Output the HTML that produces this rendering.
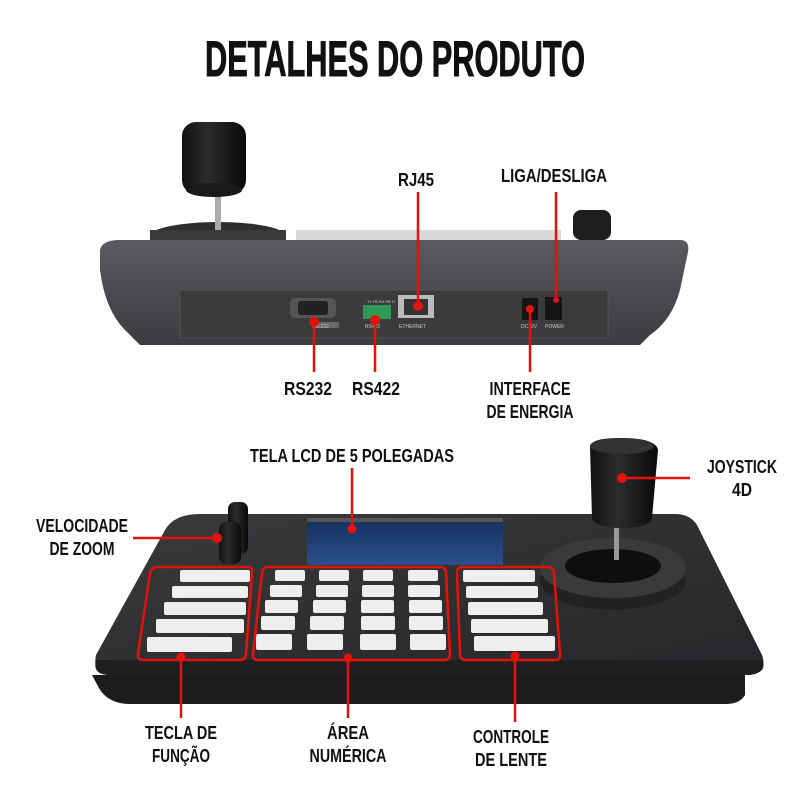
<!DOCTYPE html>
<html><head><meta charset="utf-8"><style>
html,body{margin:0;padding:0;background:#fff;}
svg{display:block;}
.t{font-family:"Liberation Sans Narrow","Liberation Sans",sans-serif;font-weight:bold;fill:#111;}
</style></head><body>
<svg width="800" height="801" viewBox="0 0 800 801" xmlns="http://www.w3.org/2000/svg">
<defs>
<linearGradient id="bodyT" x1="0" y1="0" x2="0" y2="1">
<stop offset="0" stop-color="#5a5b5e"/><stop offset="0.5" stop-color="#4a4b4e"/><stop offset="1" stop-color="#3c3d40"/>
</linearGradient>
<linearGradient id="board" x1="0" y1="0" x2="1" y2="1">
<stop offset="0" stop-color="#3a3a3c"/><stop offset="0.6" stop-color="#2e2e30"/><stop offset="1" stop-color="#26262a"/>
</linearGradient>
<linearGradient id="knob" x1="0" y1="0" x2="1" y2="0">
<stop offset="0" stop-color="#111"/><stop offset="0.4" stop-color="#2c2c2c"/><stop offset="1" stop-color="#0a0a0a"/>
</linearGradient>
<linearGradient id="lcd" x1="0" y1="0" x2="0" y2="1">
<stop offset="0" stop-color="#14305e"/><stop offset="1" stop-color="#2a4f8c"/>
</linearGradient>
</defs>

<text class="t" x="395" y="76" font-size="50" text-anchor="middle" textLength="380" lengthAdjust="spacingAndGlyphs" stroke="#111" stroke-width="1">DETALHES DO PRODUTO</text>

<!-- TOP DEVICE -->
<ellipse cx="218" cy="236" rx="68" ry="14" fill="#2e2e30"/>
<rect x="150" y="230" width="136" height="15" fill="#3a3a3c"/>
<rect x="215" y="190" width="6" height="40" fill="#aaa"/>
<rect x="182" y="122" width="64" height="72" rx="14" fill="url(#knob)"/>
<ellipse cx="214" cy="190" rx="28" ry="7" fill="#1a1a1a"/>
<rect x="296" y="230" width="265" height="12" fill="#d8d8d8"/>
<rect x="573" y="210" width="38" height="30" rx="8" fill="#1e1e1e"/>
<path d="M100,250 Q102,240 120,240 L680,240 Q690,240 688,252 L680,290 Q672,320 650,335 L640,345 L140,345 L125,330 Q105,310 100,270 Z" fill="url(#bodyT)"/>
<rect x="180" y="290" width="428" height="48" fill="#3b3b3d"/>
<rect x="180" y="290" width="428" height="48" fill="none" stroke="#555" stroke-width="1"/>
<rect x="290" y="298" width="46" height="20" rx="5" fill="#555"/>
<rect x="298" y="301" width="30" height="14" rx="3" fill="#222"/>
<rect x="313" y="322" width="26" height="6" fill="#888" opacity="0.6"/>
<rect x="363" y="305" width="28" height="14" fill="#2f9a55"/>
<text x="367" y="303" font-size="4" fill="#ccc" font-family="Liberation Sans">Tx TB RA RB G</text>
<text x="365" y="328" font-size="5" fill="#ccc" font-family="Liberation Sans">RS422</text>
<rect x="398" y="295" width="36" height="23" fill="#bbb"/>
<rect x="404" y="299" width="24" height="16" fill="#333"/>
<text x="399" y="328" font-size="5" fill="#ccc" font-family="Liberation Sans">ETHERNET</text>
<text x="312" y="328" font-size="5" fill="#ccc" font-family="Liberation Sans">RS-232</text>
<rect x="522" y="298" width="16" height="22" fill="#151515"/>
<rect x="545" y="297" width="17" height="23" fill="#151515"/>
<text x="521" y="328" font-size="5" fill="#ccc" font-family="Liberation Sans">DC12V</text>
<text x="545" y="328" font-size="5" fill="#ccc" font-family="Liberation Sans">POWER</text>

<!-- top connectors -->
<g stroke="#e3120b" stroke-width="2.5" fill="none">
<line x1="314" y1="322" x2="314" y2="372"/>
<line x1="375" y1="320" x2="375" y2="372"/>
<line x1="418" y1="192" x2="418" y2="306"/>
<line x1="556" y1="192" x2="556" y2="300"/>
<line x1="530" y1="309" x2="530" y2="372"/>
</g>
<g fill="#e3120b">
<circle cx="314" cy="322" r="5"/><circle cx="375" cy="320" r="5"/>
<circle cx="418" cy="306" r="5"/><circle cx="556" cy="300" r="3"/><circle cx="530" cy="309" r="4"/>
</g>
<text class="t" x="416" y="186" font-size="18" text-anchor="middle" textLength="36" lengthAdjust="spacingAndGlyphs">RJ45</text>
<text class="t" x="554" y="182" font-size="18" text-anchor="middle" textLength="106" lengthAdjust="spacingAndGlyphs">LIGA/DESLIGA</text>
<text class="t" x="308" y="395" font-size="18" text-anchor="middle" textLength="48" lengthAdjust="spacingAndGlyphs">RS232</text>
<text class="t" x="376" y="395" font-size="18" text-anchor="middle" textLength="48" lengthAdjust="spacingAndGlyphs">RS422</text>
<text class="t" x="530" y="395" font-size="18" text-anchor="middle" textLength="81" lengthAdjust="spacingAndGlyphs">INTERFACE</text>
<text class="t" x="530" y="418" font-size="18" text-anchor="middle" textLength="87" lengthAdjust="spacingAndGlyphs">DE ENERGIA</text>

<!-- BOTTOM DEVICE -->
<path d="M92,675 L745,675 L745,695 Q740,704 725,704 L130,704 Q110,704 100,690 Z" fill="#1c1c1e"/>
<path d="M200,514 L675,514 Q690,514 697,525 L762,655 Q768,672 750,675 L110,675 Q92,675 96,655 L165,530 Q174,514 200,514 Z" fill="url(#board)"/>
<path d="M96,660 L762,660 Q768,672 750,675 L110,675 Q92,675 96,660 Z" fill="#1f1f21"/>
<rect x="307" y="518" width="196" height="47" fill="url(#lcd)"/>
<rect x="307" y="518" width="196" height="4" fill="#555"/>

<!-- zoom knobs -->
<rect x="228" y="502" width="20" height="52" rx="7" fill="url(#knob)"/>
<rect x="219" y="522" width="22" height="42" rx="7" fill="url(#knob)"/>

<!-- joystick -->
<ellipse cx="613" cy="580" rx="73" ry="30" fill="#222224"/>
<ellipse cx="613" cy="568" rx="73" ry="30" fill="#3a3a3d"/>
<ellipse cx="613" cy="566" rx="48" ry="17" fill="#0e0e0e"/>
<rect x="614" y="520" width="5" height="40" fill="#999"/>
<path d="M590,446 Q592,438 620,438 Q656,438 658,450 L652,518 Q650,528 620,528 Q595,528 592,518 Z" fill="url(#knob)"/>
<ellipse cx="622" cy="446" rx="32" ry="8" fill="#333"/>

<!-- key groups -->
<g fill="#eeeeee">
<rect x="180" y="570" width="70" height="12" rx="2"/>
<rect x="172" y="586" width="76" height="12" rx="2"/>
<rect x="164" y="602" width="82" height="13" rx="2"/>
<rect x="156" y="619" width="88" height="14" rx="2"/>
<rect x="147" y="637" width="85" height="15" rx="2"/>

<rect x="275" y="570" width="30" height="11" rx="2"/><rect x="319" y="570" width="30" height="11" rx="2"/><rect x="363" y="570" width="30" height="11" rx="2"/><rect x="408" y="570" width="30" height="11" rx="2"/>
<rect x="270" y="585" width="32" height="12" rx="2"/><rect x="316" y="585" width="32" height="12" rx="2"/><rect x="362" y="585" width="32" height="12" rx="2"/><rect x="408" y="585" width="32" height="12" rx="2"/>
<rect x="265" y="600" width="33" height="13" rx="2"/><rect x="313" y="600" width="33" height="13" rx="2"/><rect x="361" y="600" width="33" height="13" rx="2"/><rect x="409" y="600" width="33" height="13" rx="2"/>
<rect x="261" y="616" width="34" height="14" rx="2"/><rect x="310" y="616" width="34" height="14" rx="2"/><rect x="361" y="616" width="34" height="14" rx="2"/><rect x="409" y="616" width="34" height="14" rx="2"/>
<rect x="256" y="634" width="36" height="16" rx="2"/><rect x="307" y="634" width="36" height="16" rx="2"/><rect x="360" y="634" width="36" height="16" rx="2"/><rect x="410" y="634" width="36" height="16" rx="2"/>

<rect x="463" y="570" width="72" height="12" rx="2"/>
<rect x="466" y="586" width="72" height="12" rx="2"/>
<rect x="468" y="602" width="75" height="13" rx="2"/>
<rect x="471" y="619" width="77" height="14" rx="2"/>
<rect x="474" y="636" width="81" height="15" rx="2"/>
</g>
<g fill="none" stroke="#e3120b" stroke-width="2.5">
<path d="M158,567 L248,567 Q253,567 252,573 L246,655 Q245,660 240,660 L143,660 Q137,660 138,654 L150,573 Q152,567 158,567 Z"/>
<path d="M268,567 L440,567 Q446,567 446,573 L450,654 Q450,660 444,660 L258,660 Q252,660 253,654 L262,573 Q263,567 268,567 Z"/>
<path d="M462,567 L548,567 Q553,567 554,573 L560,654 Q561,660 555,660 L466,660 Q460,660 460,654 L457,573 Q457,567 462,567 Z"/>
</g>

<!-- bottom connectors -->
<g stroke="#e3120b" stroke-width="2.5" fill="none">
<line x1="352" y1="468" x2="352" y2="528"/>
<line x1="625" y1="478" x2="690" y2="478"/>
<line x1="133" y1="538" x2="217" y2="538"/>
<line x1="181" y1="656" x2="181" y2="718"/>
<line x1="348" y1="658" x2="348" y2="718"/>
<line x1="515" y1="656" x2="515" y2="722"/>
</g>
<g fill="#e3120b">
<circle cx="352" cy="529" r="4.5"/><circle cx="622" cy="478" r="5"/><circle cx="217" cy="538" r="5"/>
<circle cx="181" cy="657" r="4.5"/><circle cx="348" cy="658" r="4.5"/><circle cx="515" cy="656" r="4.5"/>
</g>
<text class="t" x="352" y="462" font-size="18" text-anchor="middle" textLength="204" lengthAdjust="spacingAndGlyphs">TELA LCD DE 5 POLEGADAS</text>
<text class="t" x="742" y="473" font-size="18" text-anchor="middle" textLength="70" lengthAdjust="spacingAndGlyphs">JOYSTICK</text>
<text class="t" x="742" y="496" font-size="18" text-anchor="middle" textLength="20" lengthAdjust="spacingAndGlyphs">4D</text>
<text class="t" x="82" y="532" font-size="18" text-anchor="middle" textLength="92" lengthAdjust="spacingAndGlyphs">VELOCIDADE</text>
<text class="t" x="82" y="555" font-size="18" text-anchor="middle" textLength="65" lengthAdjust="spacingAndGlyphs">DE ZOOM</text>
<text class="t" x="181" y="739" font-size="18" text-anchor="middle" textLength="72" lengthAdjust="spacingAndGlyphs">TECLA DE</text>
<text class="t" x="181" y="762" font-size="18" text-anchor="middle" textLength="58" lengthAdjust="spacingAndGlyphs">FUNÇÃO</text>
<text class="t" x="348" y="739" font-size="18" text-anchor="middle" textLength="42" lengthAdjust="spacingAndGlyphs">ÁREA</text>
<text class="t" x="348" y="762" font-size="18" text-anchor="middle" textLength="77" lengthAdjust="spacingAndGlyphs">NUMÉRICA</text>
<text class="t" x="511" y="743" font-size="18" text-anchor="middle" textLength="76" lengthAdjust="spacingAndGlyphs">CONTROLE</text>
<text class="t" x="511" y="766" font-size="18" text-anchor="middle" textLength="72" lengthAdjust="spacingAndGlyphs">DE LENTE</text>
</svg>
</body></html>
